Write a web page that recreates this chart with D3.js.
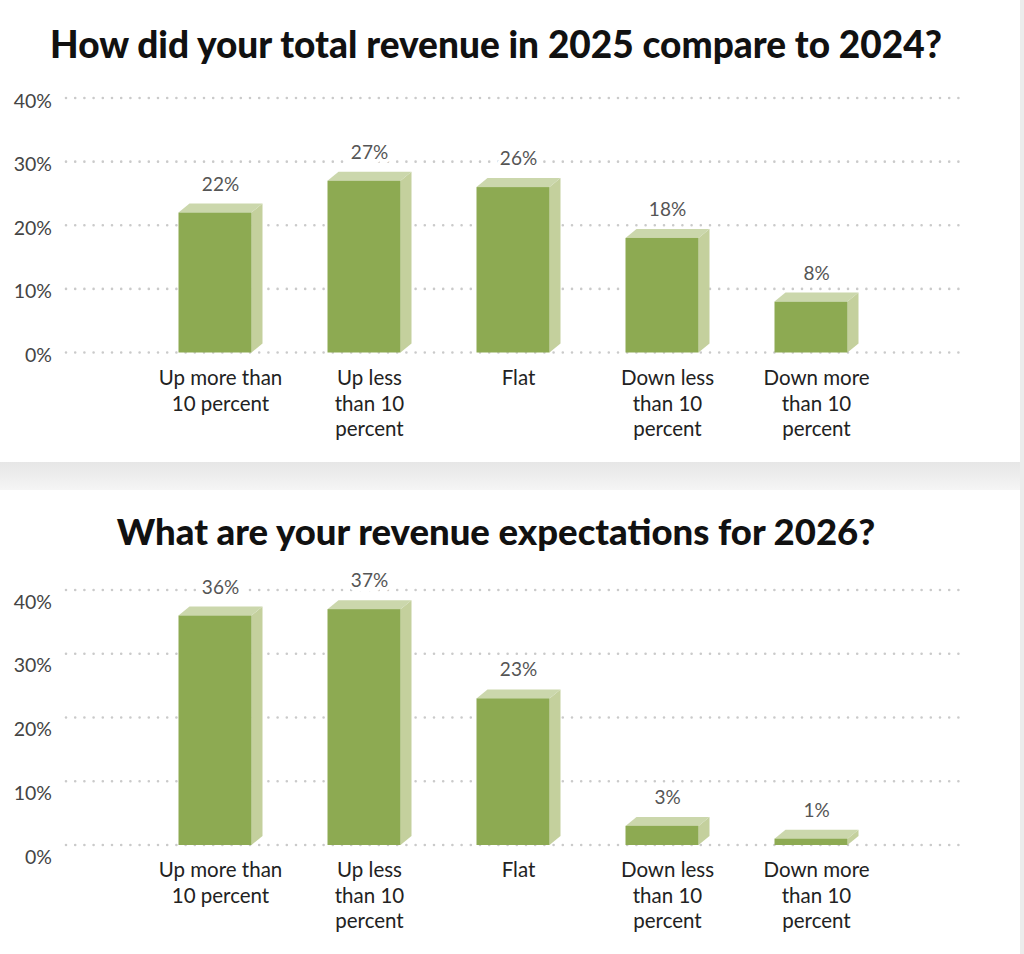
<!DOCTYPE html>
<html>
<head>
<meta charset="utf-8">
<script src="https://cdn.jsdelivr.net/npm/d3@7"></script>
<style>
  body { margin: 0; background: #fff; }
  svg { display: block; }
  text { font-family: Lato, "Open Sans", sans-serif; }
</style>
</head>
<body>
<div id="chart"></div>
<script>
const categories = [
  ["Up more than", "10 percent"],
  ["Up less", "than 10", "percent"],
  ["Flat"],
  ["Down less", "than 10", "percent"],
  ["Down more", "than 10", "percent"],
];
const revenue2025 = [22, 27, 26, 18, 8];
const expect2026 = [36, 37, 23, 3, 1];
const yTicks = [0, 10, 20, 30, 40];

const titles = [
  "How did your total revenue in 2025 compare to 2024?",
  "What are your revenue expectations for 2026?",
];

const width = 1024, height = 954;
const svg = d3.select("#chart").append("svg")
  .attr("width", width).attr("height", height);

const defs = svg.append("defs");
const grad = defs.append("linearGradient").attr("id", "band")
  .attr("x1", 0).attr("y1", 0).attr("x2", 0).attr("y2", 1);
grad.append("stop").attr("offset", "0%").attr("stop-color", "#e6e6e6");
grad.append("stop").attr("offset", "100%").attr("stop-color", "#f5f5f5");

// page separator + right edge
svg.append("rect").attr("x", 0).attr("y", 462).attr("width", 1021).attr("height", 28)
  .attr("fill", "url(#band)");
svg.append("rect").attr("x", 1020).attr("y", 0).attr("width", 4).attr("height", height)
  .attr("fill", "#ececec");

const panels = [
  { title: titles[0], values: revenue2025, titleY: 58, titleSize: 37, y0: 352.5, y40: 98, tickDy: 9, labelY: 385 },
  { title: titles[1], values: expect2026, titleY: 545, titleSize: 36.5, y0: 845, y40: 590, tickDy: 18, labelY: 877 },
];

const x = d3.scalePoint()
  .domain(d3.range(categories.length))
  .range([215, 811]);
const barW = 73, dx = 11, dy = 9;

panels.forEach((p) => {
  const g = svg.append("g");
  const y = d3.scaleLinear().domain([0, 40]).range([p.y0, p.y40]);

  g.append("text")
    .attr("x", 496).attr("y", p.titleY)
    .attr("text-anchor", "middle")
    .attr("font-size", p.titleSize).attr("font-weight", 900)
    .attr("fill", "#111")
    .text(p.title);

  // dotted grid
  g.selectAll(".grid").data(yTicks).enter().append("line")
    .attr("x1", 66).attr("x2", 962)
    .attr("y1", (d) => y(d)).attr("y2", (d) => y(d))
    .attr("stroke", "#cacaca").attr("stroke-width", 2.6)
    .attr("stroke-linecap", "round").attr("stroke-dasharray", "0 9.2");

  // y axis labels
  const axis = d3.axisLeft(y).tickValues(yTicks).tickFormat((d) => d + "%").tickSize(0).tickPadding(0);
  const ax = g.append("g").attr("transform", "translate(52,0)").call(axis);
  ax.select(".domain").remove();
  ax.selectAll("text")
    .attr("font-family", "Lato, sans-serif")
    .attr("font-size", 19.5).attr("fill", "#444")
    .attr("dy", null).attr("y", p.tickDy);

  // bars
  const bars = g.selectAll(".bar").data(p.values).enter().append("g");
  bars.append("path") // side
    .attr("d", (d, i) => {
      const r = x(i) + barW / 2, t = y(d), b = y(0);
      return `M${r},${t}L${r + dx},${t - dy}L${r + dx},${b - dy}L${r},${b}Z`;
    })
    .attr("fill", "#c4d09d");
  bars.append("path") // top
    .attr("d", (d, i) => {
      const l = x(i) - barW / 2, r = x(i) + barW / 2, t = y(d);
      return `M${l},${t}L${l + dx},${t - dy}L${r + dx},${t - dy}L${r},${t}Z`;
    })
    .attr("fill", "#cbd7ac");
  bars.append("rect")
    .attr("x", (d, i) => x(i) - barW / 2)
    .attr("y", (d) => y(d))
    .attr("width", barW)
    .attr("height", (d) => y(0) - y(d))
    .attr("fill", "#8daa52");

  // value labels
  g.selectAll(".val").data(p.values).enter().append("text")
    .attr("x", (d, i) => x(i) + dx / 2)
    .attr("y", (d) => y(d) - dy - 13)
    .attr("text-anchor", "middle")
    .attr("font-size", 19).attr("fill", "#555")
    .attr("stroke", "#fff").attr("stroke-width", 8).attr("paint-order", "stroke")
    .text((d) => d + "%");

  // category labels
  const cl = g.selectAll(".cat").data(categories).enter().append("text")
    .attr("x", (d, i) => x(i) + dx / 2)
    .attr("y", p.labelY)
    .attr("text-anchor", "middle")
    .attr("font-size", 20.5).attr("fill", "#222");
  cl.selectAll("tspan").data((d) => d).enter().append("tspan")
    .attr("x", function () { return this.parentNode.getAttribute("x"); })
    .attr("dy", (d, j) => (j === 0 ? 0 : 25.5))
    .text((d) => d);
});
</script>
</body>
</html>
